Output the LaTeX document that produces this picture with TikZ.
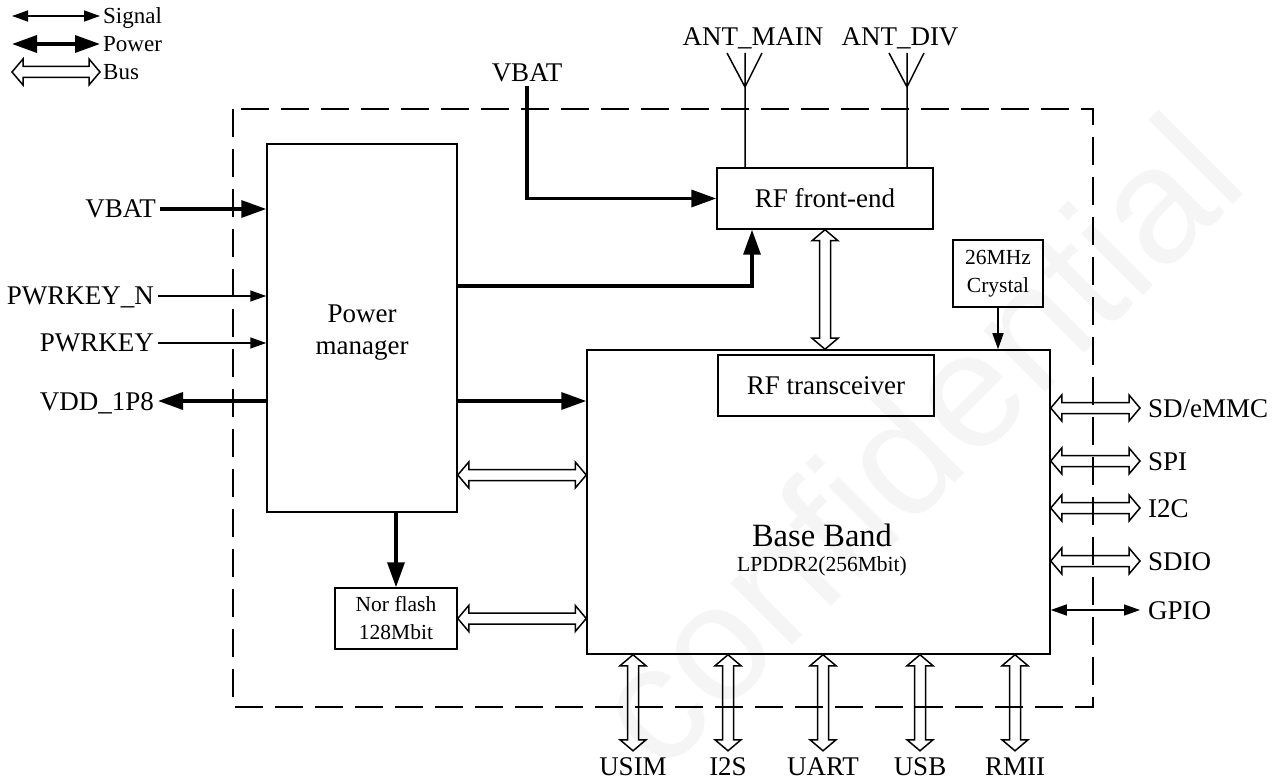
\documentclass[tikz,border=0pt]{standalone}
\usepackage{fontspec}
\setmainfont{Liberation Serif}
\newfontfamily\markfont{Liberation Sans}
\usetikzlibrary{arrows.meta,calc}

\begin{document}
\begin{tikzpicture}[x=1pt,y=-1pt]

    \tikzset{
      box/.style={
        draw,
        line width=1.5pt,
        inner sep=0pt,
        align=center,
        font=\fontsize{27}{32}\selectfont,
      },
      smallbox/.style={
        box,
        font=\fontsize{21.5}{28}\selectfont,
      },
      lbl/.style={
        inner sep=4pt,
        text height=18pt,
        text depth=0pt,
        font=\fontsize{27}{32}\selectfont,
      },
      lgd/.style={
        lbl,
        anchor=west,
        inner sep=3pt,
        text height=15pt,
        font=\fontsize{23}{26}\selectfont,
      },
      signal/.style={
        line width=1.5pt,
        >={Triangle[length=16pt,width=11pt]},
        ->,
      },
      power/.style={
        line width=3.5pt,
        >={Triangle[length=25pt,width=17pt]},
        ->,
      },
      bus/.style={
        draw,
        line width=1.5pt,
        to path={
          -- ($(\tikztostart)!11pt!(\tikztotarget)!13pt!90:(\tikztotarget)$)
          -- ($(\tikztostart)!11pt!(\tikztotarget)!5.5pt!90:(\tikztotarget)$)
          -- ($(\tikztotarget)!11pt!(\tikztostart)!5.5pt!-90:(\tikztostart)$)
          -- ($(\tikztotarget)!11pt!(\tikztostart)!13pt!-90:(\tikztostart)$)
          -- (\tikztotarget)
          -- ($(\tikztotarget)!11pt!(\tikztostart)!13pt!90:(\tikztostart)$)
          -- ($(\tikztotarget)!11pt!(\tikztostart)!5.5pt!90:(\tikztostart)$)
          -- ($(\tikztostart)!11pt!(\tikztotarget)!5.5pt!-90:(\tikztotarget)$)
          -- ($(\tikztostart)!11pt!(\tikztotarget)!13pt!-90:(\tikztotarget)$)
          -- cycle
        },
      },
    }
    \useasboundingbox (0,0) rectangle (1287,783);

    \node[rotate=45, text=black!4, font=\markfont\fontsize{165}{165}\selectfont] (mark) at (915,440) {confidential};

    \draw[line width=1.5pt, dash pattern=on 28pt off 12pt] (233,109) rectangle (1093,707);

    % legend
    \node[lgd] (lgsig) at (100,16) {Signal};
    \node[lgd] (lgpow) at (100,44) {Power};
    \node[lgd] (lgbus) at (100,72) {Bus};
    \coordinate (sigend) at (12,16);
    \coordinate (powend) at (12,44);
    \coordinate (busend) at (12,72);
    \draw[signal, <->] (sigend) -- (lgsig.west);
    \draw[power, <->] (powend) -- (lgpow.west);
    \draw[bus] (busend) to (lgbus.west);

    % blocks
    \node[box, minimum width=190pt, minimum height=368pt] (pm) at (362,328) {};
    \node[font=\fontsize{27}{32}\selectfont, align=center] (pmname) at (362,333) {Power\\manager};

    \node[box, minimum width=216pt, minimum height=61pt] (rf) at (825,198.5) {RF front-end};

    \node[box, minimum width=463pt, minimum height=304pt] (bb) at (818.5,502) {};

    \node[box, minimum width=216pt, minimum height=61pt] (rfx) at (826,385.5) {RF transceiver};

    \node[font=\fontsize{32.5}{36}\selectfont] (bbname) at (822,535) {Base Band};

    \node[font=\fontsize{21.5}{24}\selectfont] (lpddr) at (822,566) {LPDDR2(256Mbit)};

    \node[smallbox, minimum width=90pt, minimum height=67pt] (xtal) at (998,273.5) {26MHz\\Crystal};

    \node[smallbox, minimum width=122pt, minimum height=61pt] (nor) at (396,618.5) {Nor flash\\128Mbit};

    % antennas
    \node[lbl] (antmain) at (753,37) {ANT\_MAIN};
    \node[lbl] (antdiv) at (900,37) {ANT\_DIV};
    \coordinate (antm) at (745,53);
    \coordinate (antd) at (907,53);
    \draw[line width=1.5pt] (antm |- rf.north) -- (antm) ++(-18,0) -- ++(18,34) -- ++(17,-34);
    \draw[line width=1.5pt] (antd |- rf.north) -- (antd) ++(-18,0) -- ++(18,34) -- ++(17,-34);

    % power inputs
    \node[lbl] (vbattop) at (527,73) {VBAT};
    \draw[power] (vbattop.south) |- (rf.west);
    \draw[power] ([yshift=42pt]pm.east) -| ([xshift=-73pt]rf.south);

    \node[lbl, anchor=east] (vbat) at (160,209) {VBAT};
    \node[lbl, anchor=east] (pwrkeyn) at (158,296) {PWRKEY\_N};
    \node[lbl, anchor=east] (pwrkey) at (158,343) {PWRKEY};
    \node[lbl, anchor=east] (vdd) at (158,401) {VDD\_1P8};
    \draw[power] (vbat.east) -- (vbat.east -| pm.west);
    \draw[signal] (pwrkeyn.east) -- (pwrkeyn.east -| pm.west);
    \draw[signal] (pwrkey.east) -- (pwrkey.east -| pm.west);
    \draw[power] (vdd.east -| pm.west) -- (vdd.east);

    % inside links
    \coordinate (pmbus) at (0,475);
    \draw[power] (pm.east |- vdd) -- (bb.west |- vdd);
    \draw[bus] (pm.east |- pmbus) to (bb.west |- pmbus);
    \draw[power] (nor.north |- pm.south) -- (nor.north);
    \draw[bus] (nor.east) to (nor.east -| bb.west);
    \draw[signal] (xtal.south) -- (xtal.south |- bb.north);
    \draw[bus] (rf.south) to (rf.south |- bb.north);

    % right side
    \node[lbl, anchor=west, inner xsep=8pt] (sd) at (1140,408) {SD/eMMC};
    \node[lbl, anchor=west, inner xsep=8pt] (spi) at (1140,461) {SPI};
    \node[lbl, anchor=west, inner xsep=8pt] (iic) at (1140,508) {I2C};
    \node[lbl, anchor=west, inner xsep=8pt] (sdio) at (1140,561) {SDIO};
    \node[lbl, anchor=west, inner xsep=8pt] (gpio) at (1140,610) {GPIO};
    \draw[bus] (bb.east |- sd) to (sd.west);
    \draw[bus] (bb.east |- spi) to (spi.west);
    \draw[bus] (bb.east |- iic) to (iic.west);
    \draw[bus] (bb.east |- sdio) to (sdio.west);
    \draw[signal, <->] (bb.east |- gpio) -- (gpio.west);

    % bottom side
    \node[lbl, inner ysep=6pt] (usim) at (633,766) {USIM};
    \node[lbl, inner ysep=6pt] (iis) at (728,766) {I2S};
    \node[lbl, inner ysep=6pt] (uart) at (823,766) {UART};
    \node[lbl, inner ysep=6pt] (usb) at (920,766) {USB};
    \node[lbl, inner ysep=6pt] (rmii) at (1015,766) {RMII};
    \draw[bus] (bb.south -| usim) to (usim.north);
    \draw[bus] (bb.south -| iis) to (iis.north);
    \draw[bus] (bb.south -| uart) to (uart.north);
    \draw[bus] (bb.south -| usb) to (usb.north);
    \draw[bus] (bb.south -| rmii) to (rmii.north);

\end{tikzpicture}
\end{document}
